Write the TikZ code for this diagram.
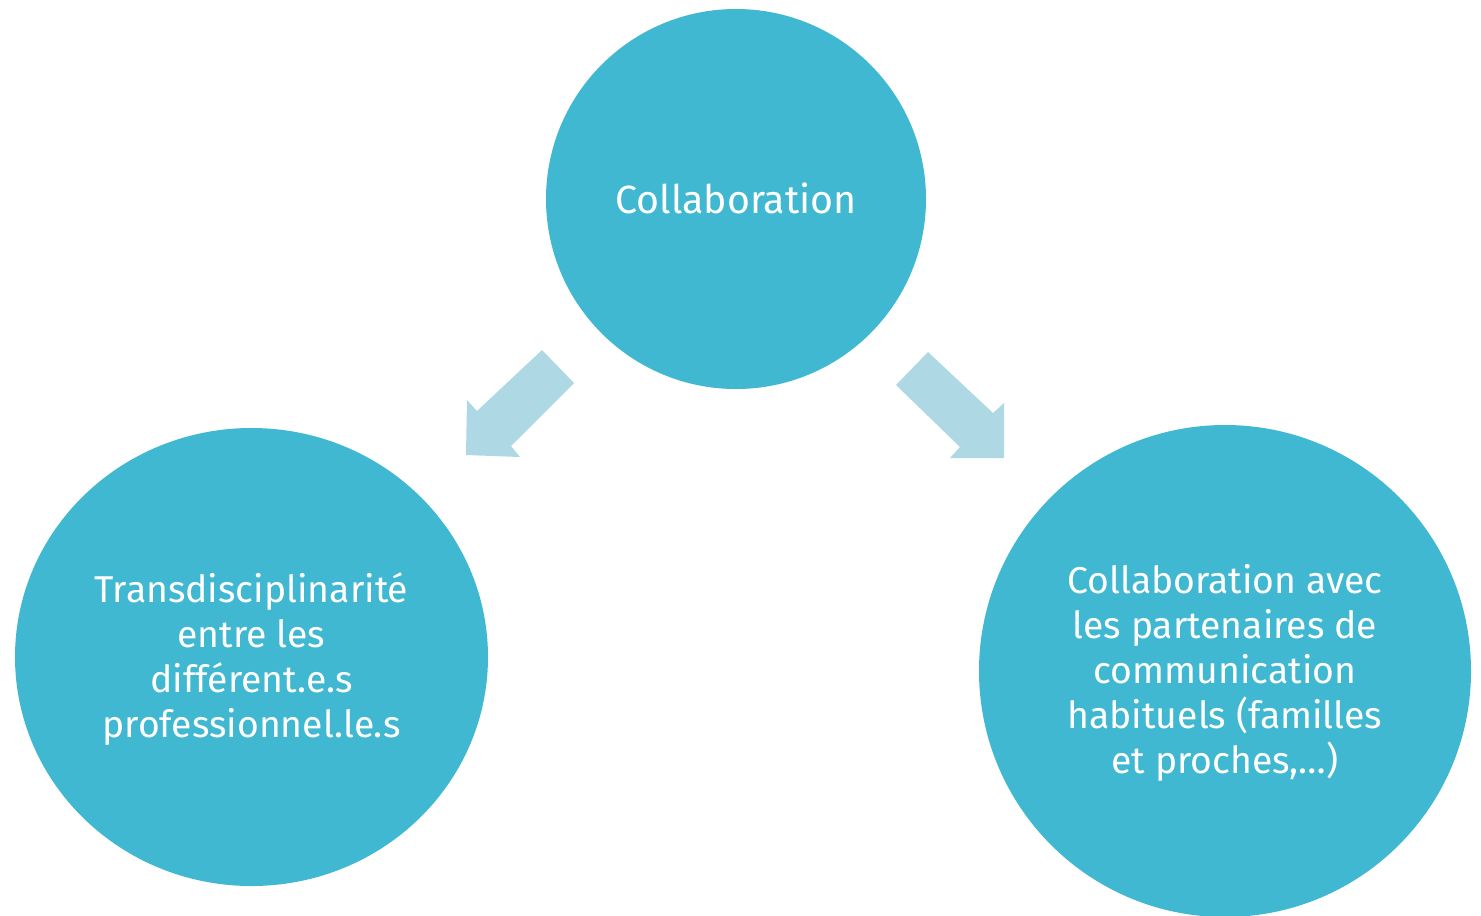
\documentclass[tikz,border=0pt]{standalone}
\usepackage{fontspec}
\setmainfont{Fira Sans}
\definecolor{circ}{HTML}{41B8D2}
\definecolor{arr}{HTML}{ADD8E4}
\begin{document}
\begin{tikzpicture}[x=0.75pt,y=-0.75pt,
  bubble/.style={fill=circ,draw=none,text=white,align=center,font=\fontsize{28}{33.75}\selectfont},
  blockarrow/.style={fill=arr,draw=none}]
\useasboundingbox (0,0) rectangle (1481,915);
\begin{scope}
\clip (0,0) rectangle (1481,915);
\fill[circ] (736,199) circle [radius=190*0.75pt];
\fill[circ] (251.5,657) ellipse [x radius=236.5*0.75pt, y radius=229*0.75pt];
\fill[circ] (1225,671) ellipse [x radius=246*0.75pt, y radius=246*0.75pt];
\end{scope}
\node[bubble,font=\fontsize{29.5}{33.75}\selectfont] (top) at (736,198) {Collaboration};
\node[bubble] (left) at (251.5,659) {Transdisciplinarité\\entre les\\différent.e.s\\professionnel.le.s};
\node[bubble] (right) at (1225,673) {Collaboration avec\\les partenaires de\\communication\\habituels (familles\\et proches,…)};
\fill[blockarrow] (542,350) -- (574,383) -- (511,446) -- (520,457) -- (466,455) -- (467,400) -- (477,411) -- cycle;
\fill[blockarrow] (928,352) -- (993,413) -- (1004,403) -- (1004,458) -- (950,458) -- (960,447) -- (896,385) -- cycle;
\end{tikzpicture}
\end{document}
